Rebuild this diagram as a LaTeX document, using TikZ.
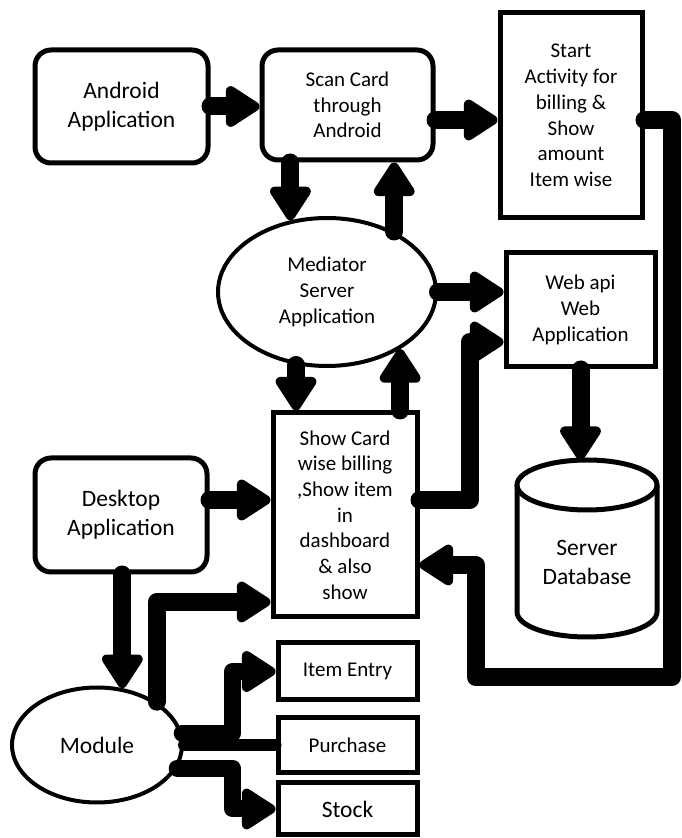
\documentclass[tikz,border=0pt]{standalone}
\usepackage{fontspec}
\setmainfont{Carlito}
\usetikzlibrary{arrows.meta,shapes.geometric}

\begin{document}
\begin{tikzpicture}[x=1pt, y=1pt, rnd/.style={draw, rounded corners=16pt, line width=5pt, inner sep=0pt, align=center}, sq/.style={draw, line width=5pt, inner sep=0pt, align=center}, oval/.style={draw, ellipse, line width=4pt, inner sep=0pt, align=center}, big/.style={font=\fontsize{23.5}{29}\selectfont}, small/.style={font=\fontsize{21}{25.7}\selectfont}, arr/.style={-{Triangle[length=38pt, width=46pt, round]}, line width=18pt, line cap=round, line join=round}, link/.style={line width=12pt, line cap=round}]
            \useasboundingbox (0,0) rectangle (681,838);
            % nodes
            \node[rnd, big, minimum width=173pt, minimum height=113pt] (android) at (121.5,731.5) {Android\\Application};
            \node[rnd, small, minimum width=171pt, minimum height=110pt] (scan) at (347.5,733) {Scan Card\\through\\Android};
            \node[sq, small, minimum width=142pt, minimum height=205pt] (start) at (571,722.5) {Start\\Activity for\\billing \&\\Show\\amount\\Item wise};

            \node[oval, small, minimum width=218pt, minimum height=148pt] (med) at (327,546) {Mediator\\Server\\Application};
            \node[sq, small, minimum width=149pt, minimum height=114pt] (web) at (580.5,528) {Web api\\Web\\Application};

            \node[rnd, big, minimum width=172pt, minimum height=114pt] (desk) at (121,323) {Desktop\\Application};
            \node[sq, small, minimum width=144pt, minimum height=204pt] (show) at (345,323) {Show Card\\wise billing\\,Show item\\in\\dashboard\\\& also\\show};

            % server database drawn as a cylinder
            \draw[line width=5pt] (517,353) -- (517,226) arc[start angle=180, end angle=360, x radius=70, y radius=25] -- (657,353);
            \draw[line width=5pt] (587,353) ellipse[x radius=70, y radius=25];
            \coordinate (dbtop) at (587,378);
            \node[big, align=center] (db) at (587,276) {Server\\Database};

            \node[oval, big, minimum width=170pt, minimum height=115pt] (module) at (97,93) {Module};
            \node[sq, small, minimum width=139pt, minimum height=57pt] (item) at (347.5,166.5) {Item Entry};
            \node[sq, small, minimum width=139pt, minimum height=55pt] (purchase) at (347.5,92.5) {Purchase};
            \node[sq, big, minimum width=139pt, minimum height=52pt] (stock) at (347.5,29) {Stock};
            \coordinate (ret) at (672,161);

            % edges
            \draw[arr] (android.east) -- (android.east -| scan.west);
            \draw[arr] ([yshift=-15pt]scan.east) -- ([yshift=-15pt]scan.east -| start.west);
            \draw[arr] (med.117 |- scan.south) -- (med.117);
            \draw[arr] (med.42) -- (med.42 |- scan.south);
            \draw[arr] (med.east) -- (med.east -| web.west);
            \draw[arr] (med.247) -- (med.247 |- show.north);
            \draw[arr] (med.322 |- show.north) -- (med.322);
            \draw[arr] ([yshift=15pt]show.east) -| ([xshift=-34pt,yshift=-32pt]web.west) -- ([yshift=-32pt]web.west);
            \draw[arr] (web.south) -- (web.south |- dbtop);
            \draw[arr] ([yshift=-4.5pt]start.east) -| (ret) -| ([xshift=56pt,yshift=-50pt]show.east) -- ([yshift=-50pt]show.east);

            \draw[arr] ([yshift=15pt]desk.east) -- ([yshift=15pt]show.west);
            \draw[arr] (module.66 |- desk.south) -- (module.66);
            \draw[arr] (module.36) |- ([yshift=-87pt]show.west);
            \draw[arr, line width=17pt] (module.8) -| ([xshift=-43pt]item.west) -- (item.west);
            \draw[link] (module.east) -- (module.east -| purchase.west);
            \draw[arr, line width=17pt] (module.344) -| ([xshift=-43pt]stock.west) -- (stock.west);
        \end{tikzpicture}
\end{document}
